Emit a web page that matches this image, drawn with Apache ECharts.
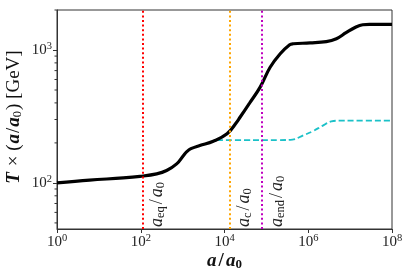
<!DOCTYPE html>
<html>
<head>
<meta charset="utf-8">
<script src="https://cdn.jsdelivr.net/npm/echarts@6/dist/echarts.min.js"></script>
<style>html,body{margin:0;padding:0;background:#fff}#c{width:410px;height:279px}</style>
</head>
<body>
<div id="c"></div>
<script>
// Black curve: T x (a/a0) vs a/a0
const blackA = [1, 6, 38, 96, 240, 415, 720, 1050, 1260, 1580, 2570, 5400, 11500, 19500, 23500, 40000, 71000, 123000, 214000, 360000, 440000, 1100000, 2700000, 4700000, 8000000, 13800000, 20000000, 29000000, 100000000];
const blackT = [100, 105, 109, 112, 117, 124, 139, 161, 172, 181, 191, 206, 234, 286, 312, 400, 526, 742, 937, 1096, 1114, 1130, 1155, 1216, 1350, 1490, 1550, 1560, 1560];
// Cyan dashed curve
const cyanA = [6600, 30000, 200000, 420000, 740000, 1290000, 2240000, 3550000, 5600000, 10000000, 100000000];
const cyanT = [210, 210, 210, 212, 227, 245, 270, 290, 294, 294, 294];
// Vertical reference lines
const vLines = [
  { name: 'eq', a: 110, color: '#ff0000' },
  { name: 'c', a: 13000, color: '#ffa500' },
  { name: 'end', a: 78000, color: '#bf00bf' }
];
const yMinor = [50, 60, 70, 80, 90, 200, 300, 400, 500, 600, 700, 800, 900, 2000];

const FONT = 'Liberation Serif';
const chart = echarts.init(document.getElementById('c'), null, { renderer: 'canvas' });

const supRich = {
  b: { fontFamily: FONT, fontSize: 15, color: '#222', lineHeight: 17 },
  s: { fontFamily: FONT, fontSize: 10.5, color: '#222', verticalAlign: 'bottom', padding: [0, 0, 7, 0], lineHeight: 17 }
};
function powLabel(v) {
  const e = Math.round(Math.log10(v));
  if (Math.abs(Math.log10(v) - e) > 1e-6) return '';
  return '{b|10}{s|' + e + '}';
}
const lblRich = {
  i: { fontFamily: FONT, fontStyle: 'italic', fontSize: 18, color: '#222' },
  n: { fontFamily: FONT, fontSize: 18, color: '#222', padding: [0, 2, 0, 2] },
  sub: { fontFamily: FONT, fontSize: 12.5, color: '#222', padding: [7, 0, 0, 0] }
};

chart.setOption({
  animation: false,
  grid: { left: 57, right: 18, top: 10, bottom: 50, containLabel: false, outerBoundsMode: 'none', show: true, borderColor: '#333', borderWidth: 1, backgroundColor: 'transparent' },
  xAxis: {
    type: 'log', logBase: 10, min: 1, max: 1e8, interval: 2,
    name: '{bi|a}{n|/}{bi|a}{sub|0}', nameLocation: 'middle', nameGap: 22, nameMoveOverlap: false,
    nameTextStyle: { rich: {
      bi: { fontFamily: FONT, fontWeight: 'bold', fontStyle: 'italic', fontSize: 19, color: '#111' },
      n: { fontFamily: FONT, fontWeight: 'bold', fontSize: 19, color: '#111', padding: [0, 2, 0, 2] },
      sub: { fontFamily: FONT, fontWeight: 'bold', fontSize: 13, color: '#111', padding: [7, 0, 0, 0] }
    } },
    axisLine: { lineStyle: { color: '#333', width: 1 } },
    axisTick: { show: true, length: 4, lineStyle: { color: '#333' } },
    axisLabel: { formatter: powLabel, rich: supRich, margin: 5 },
    splitLine: { show: false }
  },
  yAxis: {
    type: 'log', logBase: 10, min: 45, max: 2000,
    name: '{bi|T}{n| × (}{bi|a}{n|/}{bi|a}{sub|0}{n|) [GeV]}', nameLocation: 'middle', nameGap: 33, nameRotate: 90, nameMoveOverlap: false,
    nameTextStyle: { padding: [0, 0, 0, 6], rich: {
      bi: { fontFamily: FONT, fontWeight: 'bold', fontStyle: 'italic', fontSize: 19, color: '#111' },
      n: { fontFamily: FONT, fontSize: 19, color: '#111', padding: [0, 1, 0, 1] },
      sub: { fontFamily: FONT, fontSize: 12.5, color: '#111', padding: [7, 0, 0, 0] }
    } },
    axisLine: { lineStyle: { color: '#333', width: 1 } },
    axisTick: { show: true, length: 4, lineStyle: { color: '#333' } },
    axisLabel: { formatter: powLabel, rich: supRich, margin: 5, showMinLabel: false, showMaxLabel: false },
    splitLine: { show: false }
  },
  series: [
    {
      type: 'custom', silent: true, clip: false, z: 1,
      data: yMinor.map(v => [1, v]),
      renderItem: function (params, api) {
        const p = api.coord([api.value(0), api.value(1)]);
        return { type: 'line', shape: { x1: p[0] - 2.5, y1: p[1], x2: p[0], y2: p[1] }, style: { stroke: '#333', lineWidth: 1 } };
      }
    },
    {
      type: 'line', silent: true, symbol: 'none', smooth: 0.4, z: 3,
      data: blackA.map((a, i) => [a, blackT[i]]),
      lineStyle: { color: '#000', width: 3.2 },
      markLine: {
        silent: true, symbol: ['none', 'none'], animation: false,
        data: vLines.map(l => ({
          xAxis: l.a,
          lineStyle: { color: l.color, type: [2, 2.6], width: 2 },
          label: {
            show: true, position: 'insideStartBottom', distance: [2, 5],
            formatter: '{i|a}{sub|' + l.name + '}{n|/}{i|a}{sub|0}', rich: lblRich
          }
        }))
      }
    },
    {
      type: 'line', silent: true, symbol: 'none', smooth: 0.4, z: 2,
      data: cyanA.map((a, i) => [a, cyanT[i]]),
      lineStyle: { color: '#1bc1c8', width: 1.8, type: [6, 3] }
    }
  ]
});
</script>
</body>
</html>
